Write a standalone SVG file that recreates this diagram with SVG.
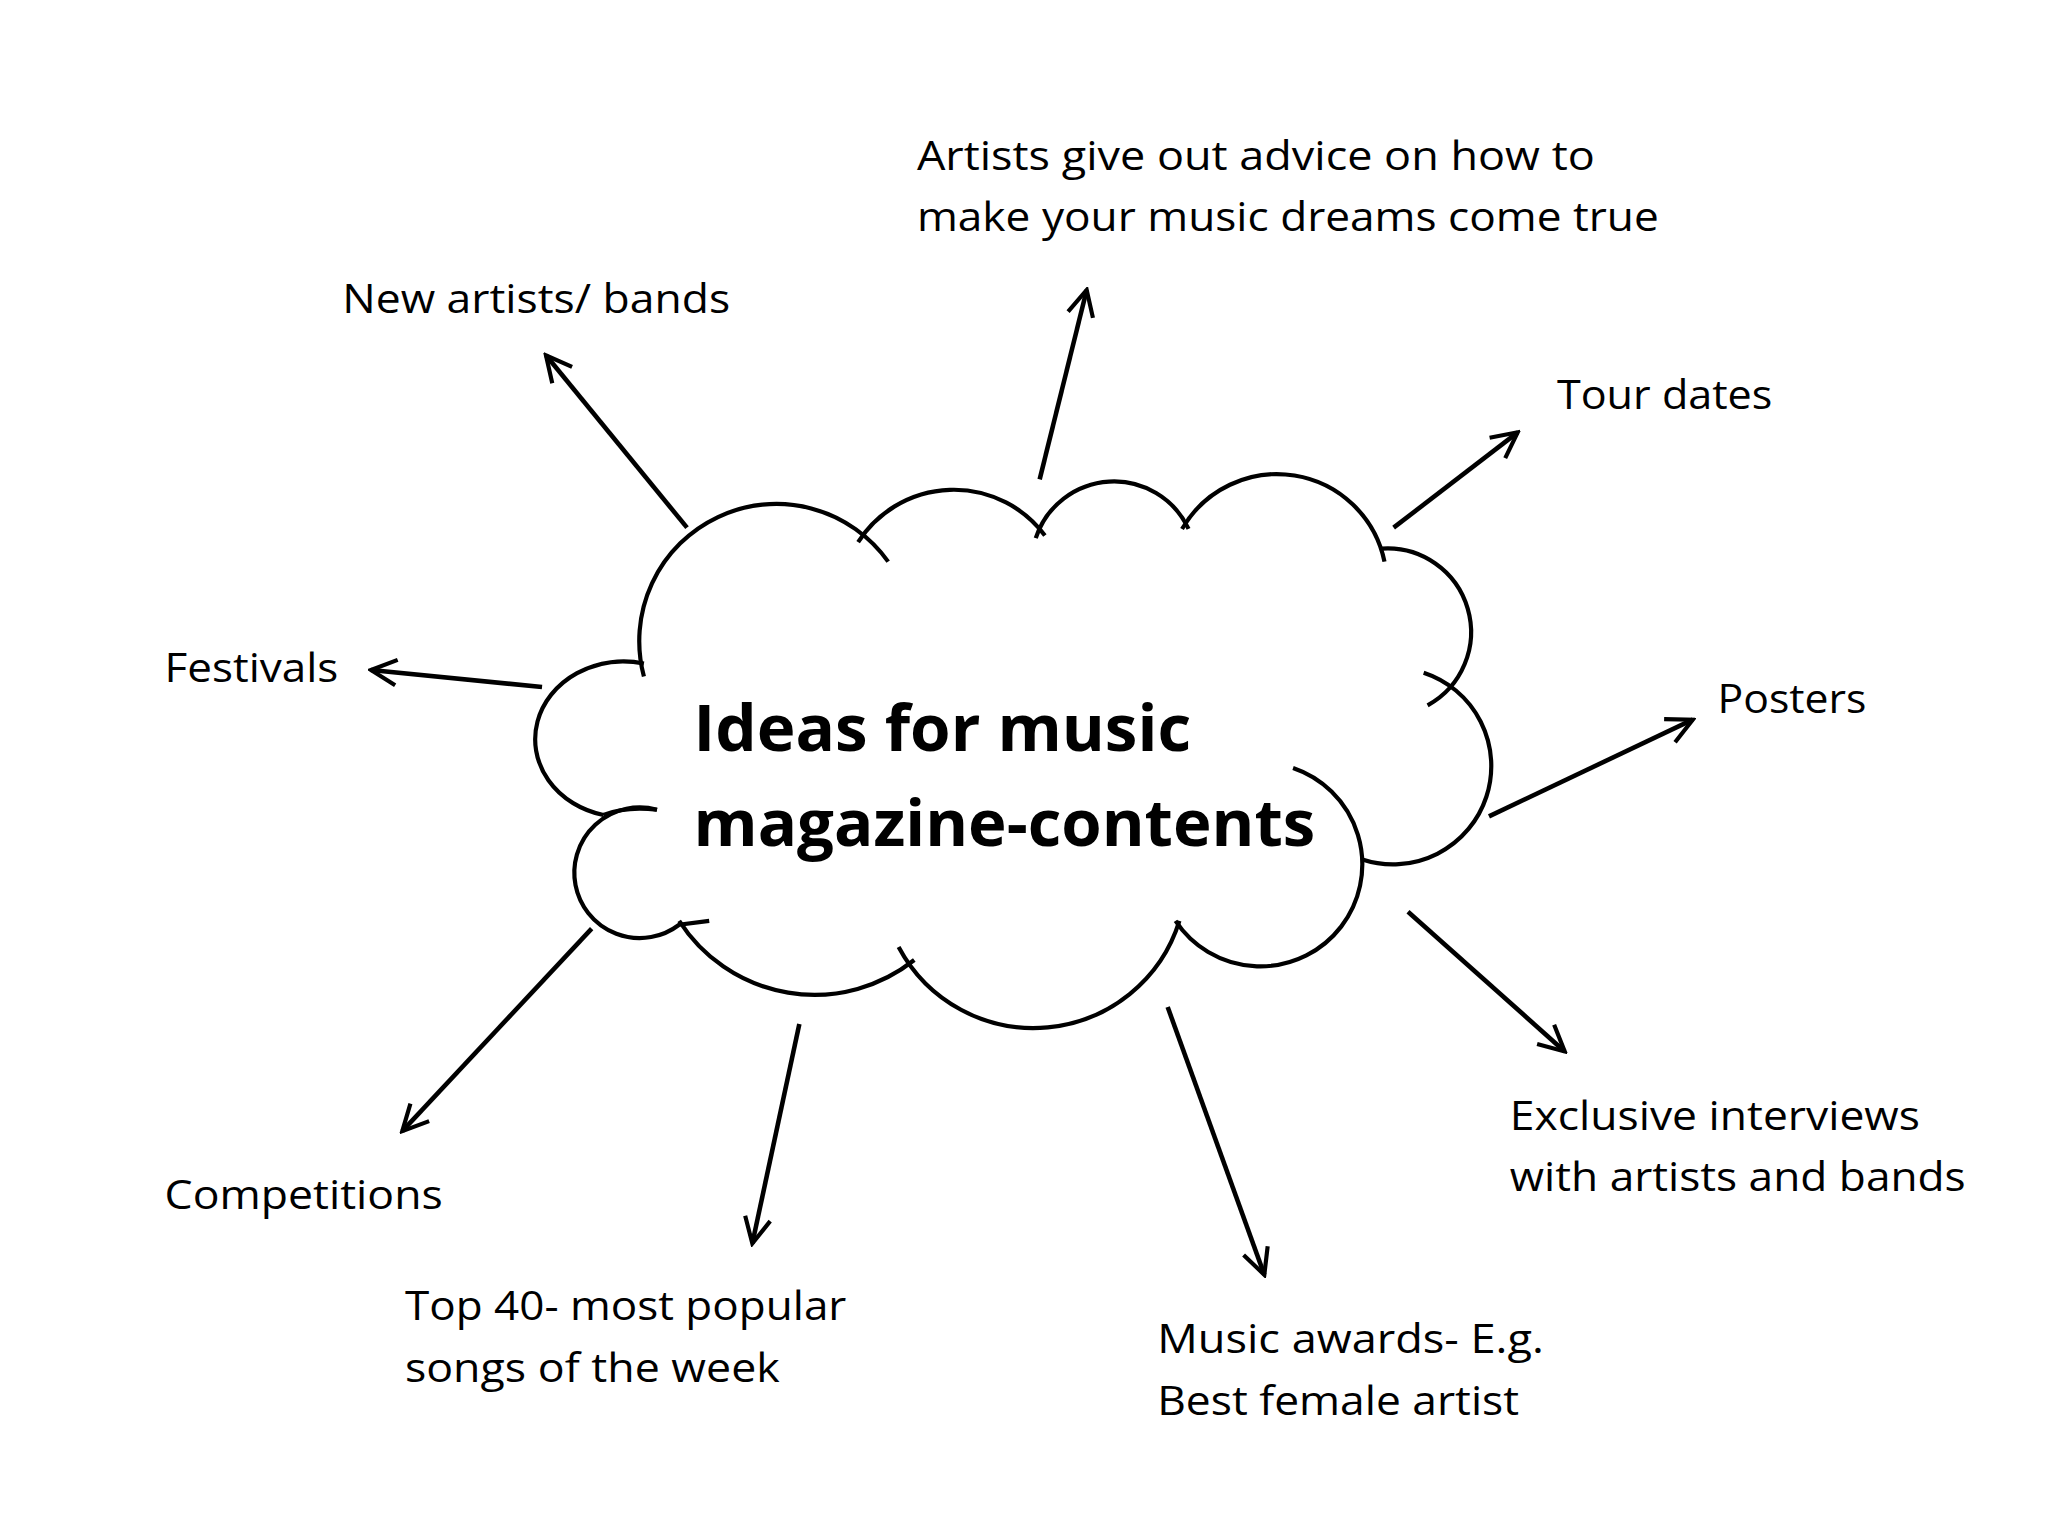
<svg xmlns="http://www.w3.org/2000/svg" width="2048" height="1536" viewBox="0 0 2048 1536">
<defs>
<style>
.t{font-family:"Open Sans","Liberation Sans",sans-serif;font-size:31px;fill:#000}
.b{font-family:"Open Sans","Liberation Sans",sans-serif;font-size:50px;font-weight:bold;fill:#000}
.c{fill:none;stroke:#000;stroke-width:3.2;stroke-linecap:butt}
.a{fill:none;stroke:#000;stroke-width:3.5}
</style>
<marker id="ah" viewBox="0 0 20 20" refX="18" refY="10" markerWidth="7" markerHeight="7" markerUnits="strokeWidth" orient="auto">
<path d="M2,2 L18,10 L2,18" fill="none" stroke="#000" stroke-width="2.6"/>
</marker>
</defs>
<rect width="2048" height="1536" fill="#fff"/>
<g transform="scale(1.30612)">
<g id="cloud">
<path class="c" d="M493,518 A105,105 0 0 1 680,430"/>
<path class="c" d="M657,415 A87,87 0 0 1 800,410"/>
<path class="c" d="M793,412 A63,63 0 0 1 910,405"/>
<path class="c" d="M905,405 A84,84 0 0 1 1060,430"/>
<path class="c" d="M1058,420 A64,64 0 0 1 1093,540"/>
<path class="c" d="M1090,515 A75,75 0 0 1 1043,658"/>
<path class="c" d="M990,588 A78,78 0 1 1 900,705"/>
<path class="c" d="M903,705 A117,117 0 0 1 688,725"/>
<path class="c" d="M700,735 A123,123 0 0 1 520,705"/>
<path class="c" d="M543,705 L520,708 A50,50 0 1 1 503,620"/>
<path class="c" d="M503,620 Q480,617 462,624 M462,624 A66,58 0 0 1 493,508"/>
<text class="b" x="531" y="575" textLength="381" lengthAdjust="spacingAndGlyphs">Ideas for music</text>
<text class="b" x="531" y="648" textLength="476" lengthAdjust="spacingAndGlyphs">magazine-contents</text>
</g>
<g id="connectors">
<line class="a" x1="526" y1="404" x2="418" y2="272" marker-end="url(#ah)"/>
<line class="a" x1="796" y1="367" x2="832" y2="222" marker-end="url(#ah)"/>
<line class="a" x1="1067" y1="404" x2="1162" y2="331" marker-end="url(#ah)"/>
<line class="a" x1="415" y1="526" x2="284" y2="513" marker-end="url(#ah)"/>
<line class="a" x1="1140" y1="625" x2="1296" y2="551" marker-end="url(#ah)"/>
<line class="a" x1="453" y1="711" x2="308" y2="866" marker-end="url(#ah)"/>
<line class="a" x1="612" y1="784" x2="576" y2="952" marker-end="url(#ah)"/>
<line class="a" x1="894" y1="771" x2="968" y2="976" marker-end="url(#ah)"/>
<line class="a" x1="1078" y1="698" x2="1198" y2="805" marker-end="url(#ah)"/>
</g>
<g id="n-advice"><text class="t" x="702" y="130" textLength="519" lengthAdjust="spacingAndGlyphs">Artists give out advice on how to</text><text class="t" x="702" y="177" textLength="568" lengthAdjust="spacingAndGlyphs">make your music dreams come true</text></g>
<g id="n-new"><text class="t" x="262" y="240" textLength="297" lengthAdjust="spacingAndGlyphs">New artists/ bands</text></g>
<g id="n-tour"><text class="t" x="1192" y="313" textLength="165" lengthAdjust="spacingAndGlyphs">Tour dates</text></g>
<g id="n-fest"><text class="t" x="126" y="522" textLength="133" lengthAdjust="spacingAndGlyphs">Festivals</text></g>
<g id="n-posters"><text class="t" x="1315" y="546" textLength="114" lengthAdjust="spacingAndGlyphs">Posters</text></g>
<g id="n-excl"><text class="t" x="1156" y="865" textLength="314" lengthAdjust="spacingAndGlyphs">Exclusive interviews</text><text class="t" x="1156" y="912" textLength="349" lengthAdjust="spacingAndGlyphs">with artists and bands</text></g>
<g id="n-comp"><text class="t" x="126" y="926" textLength="213" lengthAdjust="spacingAndGlyphs">Competitions</text></g>
<g id="n-top"><text class="t" x="310" y="1011" textLength="338" lengthAdjust="spacingAndGlyphs">Top 40- most popular</text><text class="t" x="310" y="1058" textLength="287" lengthAdjust="spacingAndGlyphs">songs of the week</text></g>
<g id="n-awards"><text class="t" x="886" y="1036" textLength="296" lengthAdjust="spacingAndGlyphs">Music awards- E.g.</text><text class="t" x="886" y="1083" textLength="277" lengthAdjust="spacingAndGlyphs">Best female artist</text></g>
</g>
</svg>
